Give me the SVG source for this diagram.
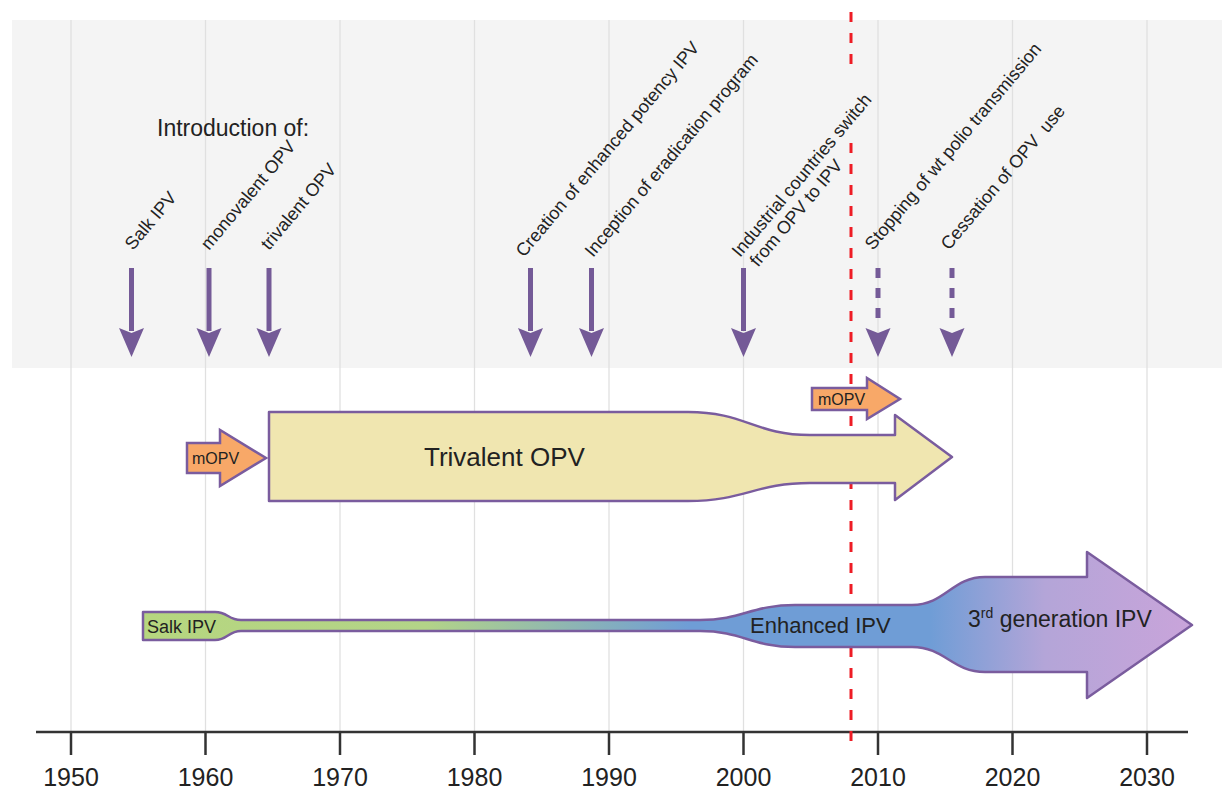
<svg xmlns="http://www.w3.org/2000/svg" xmlns:xlink="http://www.w3.org/1999/xlink" width="1222" height="790" viewBox="0 0 1222 790">
<style>
text{font-family:"Liberation Sans",Arial,sans-serif;fill:#222}
.grid{stroke:#e0e0e0;stroke-width:1.3}
.lbl{font-size:18px}
.yr{font-size:25px;text-anchor:middle}
.shaft{stroke:#745a97;stroke-width:5}
.dash{stroke:#745a97;stroke-width:5;stroke-dasharray:10 10}
.band{stroke:#7a5c9e;stroke-width:2.5;stroke-linejoin:round}
.mopv{fill:#f8a868;stroke:#7a5c9e;stroke-width:2.5}
.red{stroke:#ee1c25;stroke-width:3;stroke-dasharray:10 11}
.tick{stroke:#333;stroke-width:2.5}
</style>
<defs>
<path id="head" d="M-12.5,0 L0,5 L12.5,0 L0,29 Z" fill="#745a97"/>
<linearGradient id="ipv" gradientUnits="userSpaceOnUse" x1="143" y1="0" x2="1192" y2="0">
<stop offset="0" stop-color="#b6d67f"/>
<stop offset="0.27" stop-color="#b3d488"/>
<stop offset="0.52" stop-color="#6f9dd6"/>
<stop offset="0.75" stop-color="#6f9dd6"/>
<stop offset="0.86" stop-color="#b4a5d8"/>
<stop offset="1" stop-color="#c9a4da"/>
</linearGradient>
</defs>
<rect x="0" y="0" width="1222" height="790" fill="#fff"/>
<rect x="12" y="20" width="1210" height="348" fill="#f4f4f4"/>
<g id="gridlines">
<line class="grid" x1="71" y1="20" x2="71" y2="732"/>
<line class="grid" x1="205.5" y1="20" x2="205.5" y2="732"/>
<line class="grid" x1="340" y1="20" x2="340" y2="732"/>
<line class="grid" x1="474.5" y1="20" x2="474.5" y2="732"/>
<line class="grid" x1="609" y1="20" x2="609" y2="732"/>
<line class="grid" x1="743.5" y1="20" x2="743.5" y2="732"/>
<line class="grid" x1="878" y1="20" x2="878" y2="732"/>
<line class="grid" x1="1012.5" y1="20" x2="1012.5" y2="732"/>
<line class="grid" x1="1147" y1="20" x2="1147" y2="732"/>
</g>
<g id="axis">
<line x1="36" y1="732" x2="1188" y2="732" stroke="#333" stroke-width="2.5"/>
<line class="tick" x1="71" y1="732" x2="71" y2="755"/>
<line class="tick" x1="205.5" y1="732" x2="205.5" y2="755"/>
<line class="tick" x1="340" y1="732" x2="340" y2="755"/>
<line class="tick" x1="474.5" y1="732" x2="474.5" y2="755"/>
<line class="tick" x1="609" y1="732" x2="609" y2="755"/>
<line class="tick" x1="743.5" y1="732" x2="743.5" y2="755"/>
<line class="tick" x1="878" y1="732" x2="878" y2="755"/>
<line class="tick" x1="1012.5" y1="732" x2="1012.5" y2="755"/>
<line class="tick" x1="1147" y1="732" x2="1147" y2="755"/>
<text class="yr" x="71" y="786">1950</text>
<text class="yr" x="205.5" y="786">1960</text>
<text class="yr" x="340" y="786">1970</text>
<text class="yr" x="474.5" y="786">1980</text>
<text class="yr" x="609" y="786">1990</text>
<text class="yr" x="743.5" y="786">2000</text>
<text class="yr" x="878" y="786">2010</text>
<text class="yr" x="1012.5" y="786">2020</text>
<text class="yr" x="1147" y="786">2030</text>
</g>
<text id="intro" x="157" y="136" font-size="23">Introduction of:</text>
<g id="events">
<g id="ev-salk"><text class="lbl" transform="translate(133,251) rotate(-50)">Salk IPV</text><line class="shaft" x1="131.5" y1="268" x2="131.5" y2="331"/><use xlink:href="#head" x="131.5" y="328"/></g>
<g id="ev-mono"><text class="lbl" transform="translate(209,251) rotate(-50)">monovalent OPV</text><line class="shaft" x1="209" y1="268" x2="209" y2="331"/><use xlink:href="#head" x="209" y="328"/></g>
<g id="ev-tri"><text class="lbl" transform="translate(269,251) rotate(-50)">trivalent OPV</text><line class="shaft" x1="269" y1="268" x2="269" y2="331"/><use xlink:href="#head" x="269" y="328"/></g>
<g id="ev-creation"><text class="lbl" transform="translate(524,258) rotate(-50)">Creation of enhanced potency IPV</text><line class="shaft" x1="530.5" y1="268" x2="530.5" y2="331"/><use xlink:href="#head" x="530.5" y="328"/></g>
<g id="ev-inception"><text class="lbl" transform="translate(593,258) rotate(-50)">Inception of eradication program</text><line class="shaft" x1="591.5" y1="268" x2="591.5" y2="331"/><use xlink:href="#head" x="591.5" y="328"/></g>
<g id="ev-industrial"><text class="lbl" transform="translate(740,258) rotate(-50)"><tspan x="0" y="0">Industrial countries switch</tspan><tspan x="4" y="20">from OPV to IPV</tspan></text><line class="shaft" x1="743.5" y1="268" x2="743.5" y2="331"/><use xlink:href="#head" x="743.5" y="328"/></g>
<g id="ev-stopping"><text class="lbl" transform="translate(873,251) rotate(-50)">Stopping of wt polio transmission</text><line class="dash" x1="878" y1="268" x2="878" y2="326"/><use xlink:href="#head" x="878" y="328"/></g>
<g id="ev-cessation"><text class="lbl" xml:space="preserve" transform="translate(949,251) rotate(-50)">Cessation of OPV  use</text><line class="dash" x1="952" y1="268" x2="952" y2="326"/><use xlink:href="#head" x="952" y="328"/></g>
</g>
<g id="red-line">
<line class="red" x1="851" y1="12" x2="851" y2="72"/>
<line class="red" x1="851" y1="143" x2="851" y2="742"/>
</g>
<g id="trivalent-opv">
<path class="band" fill="#f0e6b0" d="M269,412 L688,412 C745,412 755,435 810,435 L895,435 L895,415 L952,457 L895,500 L895,483 L810,483 C755,483 745,501 688,501 L269,501 Z"/>
<text x="424" y="466" font-size="26">Trivalent OPV</text>
</g>
<g id="mopv-1">
<path class="mopv" d="M187,443 L220,443 L220,430 L266,458 L220,486 L220,473 L187,473 Z"/>
<text x="192" y="464" font-size="16">mOPV</text>
</g>
<g id="mopv-2">
<path class="mopv" d="M812,388 L867,388 L867,378 L900,399 L867,419 L867,410 L812,410 Z"/>
<text x="818" y="405" font-size="16">mOPV</text>
</g>
<g id="ipv">
<path class="band" fill="url(#ipv)" d="M143,612 L215,612 C228,612 228,620 241,620 L700,620 C742,620 752,605 795,605 L912,605 C945,605 952,577 985,577 L1087,577 L1087,552 L1192,625 L1087,698 L1087,672 L985,672 C952,672 945,647 912,647 L795,647 C752,647 742,631 700,631 L241,631 C228,631 228,640 215,640 L143,640 Z"/>
<text x="147" y="633" font-size="18">Salk IPV</text>
<text x="750" y="633" font-size="22">Enhanced IPV</text>
<text x="968" y="627" font-size="23">3<tspan dy="-9" font-size="14">rd</tspan><tspan dy="9"> generation IPV</tspan></text>
</g>
</svg>
